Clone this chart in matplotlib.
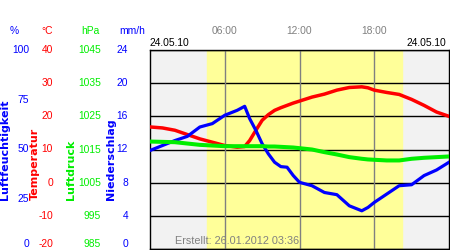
import matplotlib
matplotlib.use("Agg")
import matplotlib.pyplot as plt
from matplotlib.transforms import blended_transform_factory

plt.rcParams["font.family"] = ["Liberation Sans", "DejaVu Sans"]

# hours of the day
hours = [0, 1, 2, 3, 4, 5, 6, 7, 7.6, 8, 8.5, 9, 9.5, 10, 10.5, 11, 11.5, 12,
         13, 14, 15, 16, 17, 17.5, 18, 19, 20, 21, 22, 23, 24]

# temperature (°C)
temp = [16.8, 16.5, 15.8, 14.5, 13.2, 12.2, 11.2, 10.7, 10.9, 12.7, 15.8, 18.8,
        20.5, 21.8, 22.6, 23.3, 24.0, 24.6, 25.8, 26.7, 27.9, 28.7, 28.9, 28.6,
        27.9, 27.2, 26.6, 25.1, 23.3, 21.3, 20.0]

# air pressure (hPa)
pressure = [1017.4, 1017.3, 1017.2, 1016.8, 1016.4, 1016.2, 1016.0, 1016.0,
            1016.0, 1016.0, 1016.0, 1016.0, 1015.9, 1015.9, 1015.8, 1015.7,
            1015.6, 1015.4, 1015.0, 1014.2, 1013.5, 1012.7, 1012.2, 1012.0,
            1011.9, 1011.7, 1011.7, 1012.2, 1012.5, 1012.7, 1012.9]

# relative humidity (%)
humidity = [49.5, 52.0, 54.5, 56.6, 61.3, 63.0, 67.2, 69.7, 71.7, 65.5, 59.6,
            52.9, 47.8, 43.6, 41.4, 41.1, 36.9, 33.5, 31.8, 28.4, 27.3, 21.7,
            19.2, 20.9, 23.4, 27.6, 31.8, 32.3, 36.9, 39.7, 43.6]

sunrise, sunset = 4.6, 20.25

hum_ticks = [100, 75, 50, 25, 0]
temp_ticks = [40, 30, 20, 10, 0, -10, -20]
pres_ticks = [1045, 1035, 1025, 1015, 1005, 995, 985]
rain_ticks = [24, 20, 16, 12, 8, 4, 0]
time_ticks = [6, 12, 18]
time_labels = ["06:00", "12:00", "18:00"]

BLUE = "#0000ff"
RED = "#ff0000"
GREEN = "#00ee00"
GRAY = "#808080"

W, H = 450, 250
fig = plt.figure(figsize=(4.5, 2.5), dpi=100)
fig.patch.set_facecolor("white")

ax = fig.add_axes([150 / W, 1 - 249 / H, 299 / W, 199 / H])
ax.set_xlim(0, 24)
ax.set_ylim(-20, 40)
ax.set_facecolor("#f2f2f2")
ax.axvspan(sunrise, sunset, color="#ffff99", zorder=0)
for t in temp_ticks:
    ax.axhline(t, color="black", lw=1, zorder=1)
for t in time_ticks:
    ax.axvline(t, color=GRAY, lw=1, zorder=1)
for s in ax.spines.values():
    s.set_color("black")
    s.set_linewidth(1)
ax.set_xticks([])
ax.set_yticks([])

ax.plot(hours, temp, color=RED, lw=2.5, zorder=3)

ax_h = ax.twinx()
ax_h.set_ylim(0, 100)
ax_h.set_yticks([])
ax_h.plot(hours, humidity, color=BLUE, lw=2.3, zorder=4)

ax_p = ax.twinx()
ax_p.set_ylim(985, 1045)
ax_p.set_yticks([])
ax_p.plot(hours, pressure, color=GREEN, lw=2.9, zorder=5)
for a in (ax_h, ax_p):
    for s in a.spines.values():
        s.set_visible(False)

fs = 7.4

def column(axis, ticks, x_right, color):
    tr = blended_transform_factory(fig.transFigure, axis.transData)
    lo = min(ticks)
    for t in ticks:
        va = "bottom" if t == lo else "center"
        fig.text(x_right / W, t, str(t), transform=tr, ha="right", va=va,
                 color=color, fontsize=fs)

column(ax_h, hum_ticks, 29, BLUE)
column(ax, temp_ticks, 53, RED)
column(ax_p, pres_ticks, 101, GREEN)
# precipitation scale shares the grid: 0..24 mm/h over the full height
tr_rain = blended_transform_factory(fig.transFigure, ax.transAxes)
for t in rain_ticks:
    va = "bottom" if t == 0 else "center"
    fig.text(128 / W, t / 24, str(t), transform=tr_rain, ha="right", va=va,
             color=BLUE, fontsize=fs)

# unit headers
y_head = 1 - 31 / H
fig.text(14 / W, y_head, "%", color=BLUE, ha="center", va="center", fontsize=fs)
fig.text(47 / W, y_head, "°C", color=RED, ha="center", va="center", fontsize=fs)
fig.text(90 / W, y_head, "hPa", color=GREEN, ha="center", va="center", fontsize=fs)
fig.text(132 / W, y_head, "mm/h", color=BLUE, ha="center", va="center", fontsize=fs)

# rotated axis titles
y_bot = 1 - 200 / H
for x, label, color in [(5, "Luftfeuchtigkeit", BLUE), (35, "Temperatur", RED),
                        (71, "Luftdruck", GREEN), (111, "Niederschlag", BLUE)]:
    fig.text(x / W, y_bot, label, rotation=90, color=color, ha="center",
             va="bottom", fontsize=8, fontweight="bold",
             family="DejaVu Sans")

# time labels on top
tr_time = blended_transform_factory(ax.transData, fig.transFigure)
for t, lab in zip(time_ticks, time_labels):
    fig.text(t, y_head, lab, transform=tr_time, ha="center", va="center",
             color=GRAY, fontsize=fs)

fig.text(150 / W, 1 - 43 / H, "24.05.10", ha="left", va="center",
         color="black", fontsize=fs)
fig.text(446 / W, 1 - 43 / H, "24.05.10", ha="right", va="center",
         color="black", fontsize=fs)
fig.text(175 / W, 1 - 241 / H, "Erstellt: 26.01.2012 03:36", ha="left",
         va="center", color=GRAY, fontsize=7.8)

fig.savefig("out.png", dpi=100)
